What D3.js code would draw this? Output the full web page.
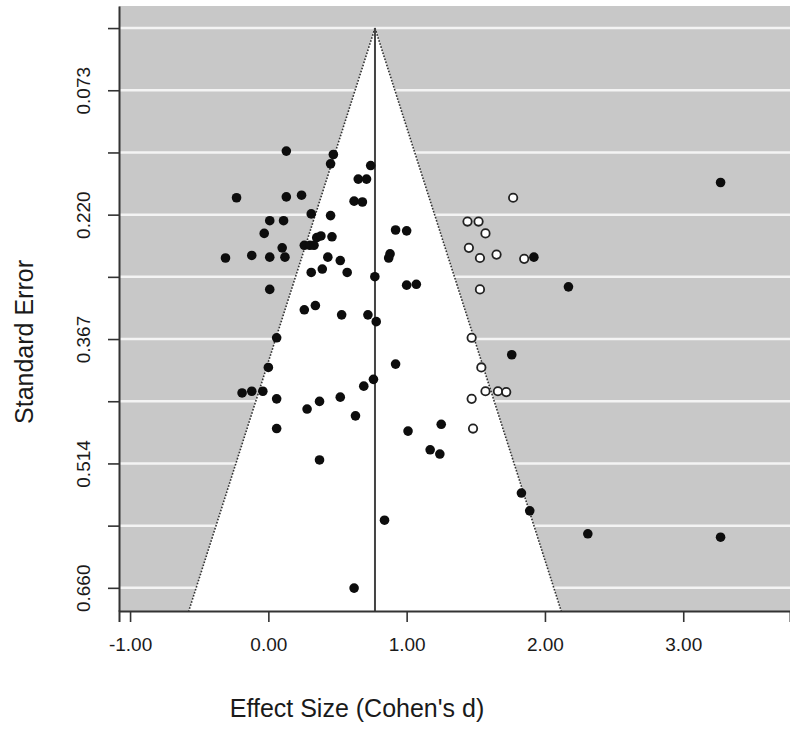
<!DOCTYPE html>
<html>
  <head>
    <meta charset="utf-8">
    <script src="https://cdn.jsdelivr.net/npm/d3@7"></script>
    <style>
      body { margin: 0; background: #fff; }
      text { font-family: Arial, "Liberation Sans", sans-serif; fill: #1a1a1a; }
    </style>
  </head>
  <body>
    <div id="chart"></div>
    <script type="text/javascript">
      // observed studies: effect size (Cohen's d) and standard error
      var obsD = [0.13, 0.47, 0.45, 0.74, 0.65, 0.71, -0.23, 0.13, 0.24, 0.62, 0.68, 0.31, 0.45,
        0.01, 0.11, 0.92, 1.00, -0.03, 0.35, 0.38, 0.46, 0.10, 0.26, 0.30, 0.33, -0.31, -0.12,
        0.01, 0.12, 0.43, 0.88, 0.87, 0.52, 0.31, 0.39, 0.57, 0.77, 0.01, 1.00, 1.07, 0.34,
        0.26, 0.53, 0.72, 0.78, 0.06, 0.92, 0.00, 0.76, 0.69, -0.19, -0.12, -0.04, 0.06, 0.37,
        0.52, 0.28, 0.63, 0.06, 1.01, 1.25, 1.17, 1.24, 0.37, 0.84, 1.83, 1.89, 2.31, 3.27,
        0.62, 1.92, 2.17, 1.76, 3.27];
      var obsSE = [0.145, 0.149, 0.160, 0.162, 0.178, 0.178, 0.200, 0.199, 0.197, 0.204, 0.205,
        0.219, 0.221, 0.227, 0.227, 0.238, 0.239, 0.242, 0.247, 0.245, 0.246, 0.259, 0.256,
        0.256, 0.256, 0.271, 0.268, 0.270, 0.270, 0.270, 0.266, 0.271, 0.274, 0.288, 0.284,
        0.288, 0.293, 0.308, 0.303, 0.302, 0.327, 0.332, 0.338, 0.338, 0.346, 0.365, 0.396,
        0.400, 0.414, 0.422, 0.430, 0.428, 0.428, 0.437, 0.440, 0.435, 0.449, 0.457, 0.472,
        0.475, 0.467, 0.497, 0.502, 0.509, 0.580, 0.548, 0.569, 0.596, 0.600, 0.660, 0.270,
        0.305, 0.385, 0.182];

      // imputed studies (trim and fill), drawn open
      var impD = [1.77, 1.44, 1.52, 1.57, 1.45, 1.53, 1.65, 1.85, 1.53, 1.47, 1.54, 1.57, 1.66,
        1.72, 1.47, 1.48];
      var impSE = [0.200, 0.228, 0.228, 0.242, 0.259, 0.271, 0.267, 0.272, 0.308, 0.365, 0.400,
        0.428, 0.428, 0.429, 0.437, 0.472];

      var meanD = 0.771;
      var xTicks = [-1, 0, 1, 2, 3];
      var xLabels = ["-1.00", "0.00", "1.00", "2.00", "3.00"];
      var seStep = 0.0733;
      var seTicks = d3.range(10).map(function (k) { return k * seStep; });
      var seLabels = ["", "0.073", "", "0.220", "", "0.367", "", "0.514", "", "0.660"];

      var width = 790, height = 729;
      var margin = {top: 6, right: 0, bottom: 118, left: 119};
      var w = width - margin.left - margin.right;
      var h = height - margin.top - margin.bottom;

      var svg = d3.select("#chart").append("svg")
        .attr("width", width)
        .attr("height", height);

      var x = d3.scaleLinear().domain([-1.08, 3.772]).range([0, w]);
      var y = d3.scaleLinear().domain([-0.026, 0.687]).range([0, h]);

      svg.append("defs").append("clipPath").attr("id", "clip")
        .append("rect").attr("width", w).attr("height", h);

      var g = svg.append("g")
        .attr("transform", "translate(" + margin.left + "," + margin.top + ")");

      var plot = g.append("g").attr("clip-path", "url(#clip)");

      // grey background
      plot.append("rect")
        .attr("width", w).attr("height", h)
        .attr("fill", "#c8c8c8");

      // white grid lines
      plot.selectAll(".grid")
        .data(seTicks)
        .enter().append("line")
          .attr("x1", 0).attr("x2", w)
          .attr("y1", function (d) { return y(d); })
          .attr("y2", function (d) { return y(d); })
          .attr("stroke", "#f4f4f4")
          .attr("stroke-width", 2.5);

      // funnel (95% pseudo confidence region)
      var seMax = y.domain()[1];
      var funnel = [[meanD, 0], [meanD - 1.96 * seMax, seMax], [meanD + 1.96 * seMax, seMax]];
      plot.append("polygon")
        .attr("points", funnel.map(function (p) { return x(p[0]) + "," + y(p[1]); }).join(" "))
        .attr("fill", "#fff");

      plot.selectAll(".edge")
        .data([funnel[1], funnel[2]])
        .enter().append("line")
          .attr("x1", x(meanD)).attr("y1", y(0))
          .attr("x2", function (d) { return x(d[0]); })
          .attr("y2", function (d) { return y(d[1]); })
          .attr("stroke", "#333")
          .attr("stroke-width", 1.6)
          .attr("stroke-dasharray", "1.6,1.6");

      plot.append("line")
        .attr("x1", x(meanD)).attr("x2", x(meanD))
        .attr("y1", y(0)).attr("y2", h)
        .attr("stroke", "#444")
        .attr("stroke-width", 2);

      // observed studies
      plot.selectAll(".obs")
        .data(d3.range(obsD.length))
        .enter().append("circle")
          .attr("cx", function (i) { return x(obsD[i]); })
          .attr("cy", function (i) { return y(obsSE[i]); })
          .attr("r", 4.8)
          .attr("fill", "#0d0d0d");

      // imputed studies
      plot.selectAll(".imp")
        .data(d3.range(impD.length))
        .enter().append("circle")
          .attr("cx", function (i) { return x(impD[i]); })
          .attr("cy", function (i) { return y(impSE[i]); })
          .attr("r", 4.2)
          .attr("fill", "#fff")
          .attr("stroke", "#222")
          .attr("stroke-width", 1.8);

      // axes
      var xAxis = g.append("g")
        .attr("transform", "translate(0," + h + ")")
        .call(d3.axisBottom(x).tickValues(xTicks).tickSize(11).tickPadding(16)
          .tickFormat(function (d, i) { return xLabels[i]; }));
      xAxis.selectAll("text").style("font-size", "19px");

      var yAxis = g.append("g")
        .call(d3.axisLeft(y).tickValues(seTicks).tickSize(11).tickSizeOuter(0)
          .tickFormat(function (d, i) { return seLabels[i]; }));
      yAxis.selectAll("text")
        .style("font-size", "19px")
        .attr("transform", "rotate(-90)")
        .attr("x", 0).attr("y", -29)
        .attr("dy", "0")
        .style("text-anchor", "middle");

      g.selectAll(".domain").attr("stroke", "#333").attr("stroke-width", 2);
      g.selectAll(".tick line").attr("stroke", "#333").attr("stroke-width", 1.6);

      // axis titles
      svg.append("text")
        .attr("x", 357).attr("y", 717)
        .style("text-anchor", "middle")
        .style("font-size", "25px")
        .text("Effect Size (Cohen's d)");

      svg.append("text")
        .attr("transform", "translate(33,342) rotate(-90)")
        .style("text-anchor", "middle")
        .style("font-size", "25px")
        .text("Standard Error");
    </script>
  </body>
</html>
